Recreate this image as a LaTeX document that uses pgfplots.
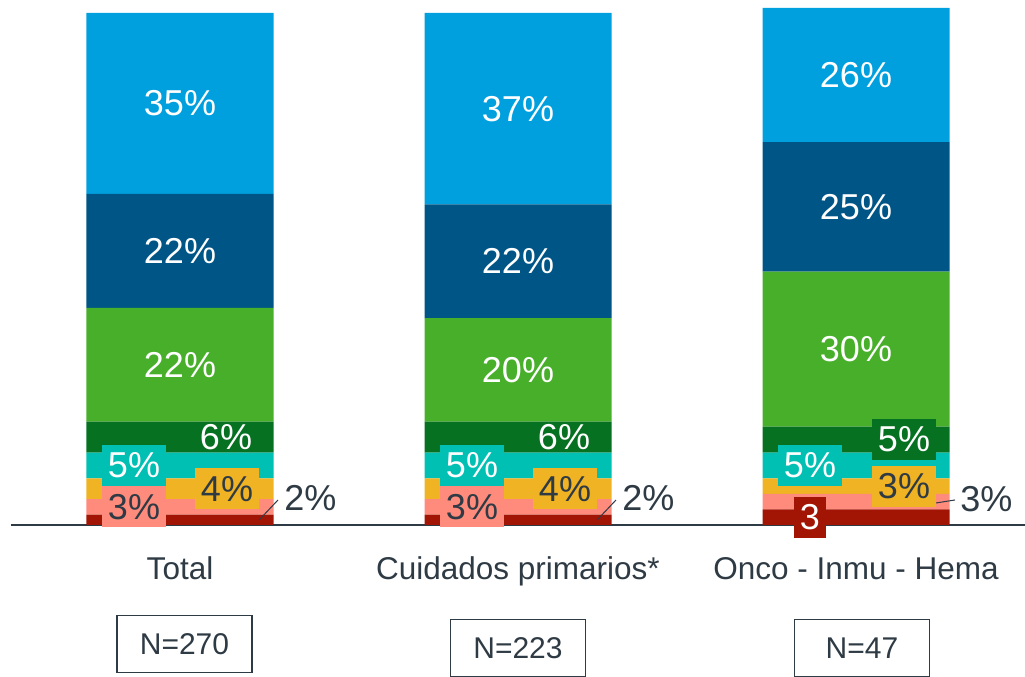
\documentclass[border=0pt]{standalone}
\usepackage{fontspec}
\setmainfont{Liberation Sans}
\usepackage{pgfplots}
\pgfplotsset{compat=1.18}
\definecolor{cLB}{HTML}{00A0DF}
\definecolor{cDB}{HTML}{005587}
\definecolor{cG}{HTML}{48AF2B}
\definecolor{cDG}{HTML}{067121}
\definecolor{cT}{HTML}{00BFB3}
\definecolor{cO}{HTML}{F0B323}
\definecolor{cS}{HTML}{FF8B7D}
\definecolor{cR}{HTML}{A21505}
\definecolor{cText}{HTML}{2E3A44}

% value labels, drawn once the bars are in place
\newcommand{\barlabels}{%
  % Total
  \node[lbl, text=white] at (axis cs:0,81.5) {35\%};
  \node[lbl, text=white] at (axis cs:0,53) {22\%};
  \node[lbl, text=white] at (axis cs:0,31) {22\%};
  \node[boxl, text=white, xshift=46pt] at (axis cs:0,17) {6\%};
  \node[boxl, fill=cT, text=white, xshift=-46pt] at (axis cs:0,11.5) {5\%};
  \node[boxl, fill=cO, text=cText, xshift=47pt] at (axis cs:0,7) {4\%};
  \node[boxl, fill=cS, text=cText, xshift=-46pt] at (axis cs:0,3.5) {3\%};
  \draw[lead] (axis cs:0.234,0.97) -- (axis cs:0.290,4.84);
  \node[lbl, text=cText, anchor=west] at (axis cs:0.308,5.13) {2\%};
  % Cuidados primarios
  \node[lbl, text=white] at (axis cs:1,80.5) {37\%};
  \node[lbl, text=white] at (axis cs:1,51) {22\%};
  \node[lbl, text=white] at (axis cs:1,30) {20\%};
  \node[boxl, text=white, xshift=46pt] at (axis cs:1,17) {6\%};
  \node[boxl, fill=cT, text=white, xshift=-46pt] at (axis cs:1,11.5) {5\%};
  \node[boxl, fill=cO, text=cText, xshift=47pt] at (axis cs:1,7) {4\%};
  \node[boxl, fill=cS, text=cText, xshift=-46pt] at (axis cs:1,3.5) {3\%};
  \draw[lead] (axis cs:1.234,0.97) -- (axis cs:1.290,4.84);
  \node[lbl, text=cText, anchor=west] at (axis cs:1.308,5.13) {2\%};
  % Onco - Inmu - Hema
  \node[lbl, text=white] at (axis cs:2,87) {26\%};
  \node[lbl, text=white] at (axis cs:2,61.5) {25\%};
  \node[lbl, text=white] at (axis cs:2,34) {30\%};
  \node[boxl, fill=cDG, text=white, xshift=48pt] at (axis cs:2,16.5) {5\%};
  \node[boxl, fill=cT, text=white, xshift=-46pt] at (axis cs:2,11.5) {5\%};
  \node[boxl, fill=cO, text=cText, xshift=48pt] at (axis cs:2,7.5) {3\%};
  \node[boxl, fill=cR, text=white, xshift=-46pt] at (axis cs:2,1.5) {3};
  \draw[lead] (axis cs:2.237,4.26) -- (axis cs:2.293,4.84);
  \node[lbl, text=cText, anchor=west] at (axis cs:2.308,4.93) {3\%};
  % sample sizes
  \node[nbox, xshift=4.5pt, yshift=-119pt] at (axis cs:0,0) {N=270};
  \node[nbox, yshift=-123pt] at (axis cs:1,0) {N=223};
  \node[nbox, xshift=6pt, yshift=-123pt] at (axis cs:2,0) {N=47};
}

\begin{document}
\begin{tikzpicture}[
    lbl/.style={font=\fontsize{36}{40}\selectfont, inner sep=0pt},
    boxl/.style={font=\fontsize{36}{40}\selectfont, inner xsep=6pt, inner ysep=0pt, minimum height=41pt},
    lead/.style={cText, line width=1pt},
    nbox/.style={draw=cText, line width=1.6pt, minimum width=135pt, minimum height=57pt,
                 font=\fontsize{30}{33}\selectfont, text=cText}
  ]
  \useasboundingbox (0,0) rectangle (1025pt,677pt);
  \begin{axis}[
      at={(11pt,152pt)},
      scale only axis,
      width=1014pt, height=525pt,
      xmin=-0.5, xmax=2.5, ymin=0, ymax=101.5,
      ybar stacked,
      bar width=187pt,
      axis x line=bottom, axis y line=none,
      axis line style={-, draw=cText, line width=2pt},
      xtick={0,1,2},
      xticklabels={Total, Cuidados primarios*, Onco - Inmu - Hema},
      major tick length=0pt,
      xticklabel style={font=\fontsize{31.5}{34}\selectfont, text=cText, anchor=base, yshift=-54pt},
      ytick=\empty,
      clip=false,
      after end axis/.code={\barlabels}
    ]
    % bottom to top
    \addplot[fill=cR, draw=none] coordinates {(0,2) (1,2) (2,3)};
    \addplot[fill=cS, draw=none] coordinates {(0,3) (1,3) (2,3)};
    \addplot[fill=cO, draw=none] coordinates {(0,4) (1,4) (2,3)};
    \addplot[fill=cT, draw=none] coordinates {(0,5) (1,5) (2,5)};
    \addplot[fill=cDG, draw=none] coordinates {(0,6) (1,6) (2,5)};
    \addplot[fill=cG, draw=none] coordinates {(0,22) (1,20) (2,30)};
    \addplot[fill=cDB, draw=none] coordinates {(0,22) (1,22) (2,25)};
    \addplot[fill=cLB, draw=none] coordinates {(0,35) (1,37) (2,26)};
  \end{axis}
\end{tikzpicture}
\end{document}
